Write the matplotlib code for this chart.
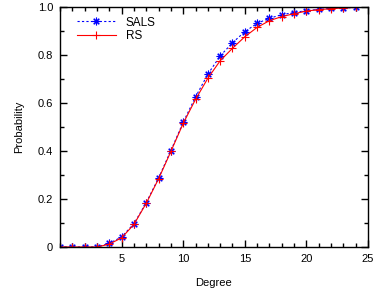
import numpy as np
import matplotlib
matplotlib.use("Agg")
import matplotlib.pyplot as plt
from matplotlib.ticker import MultipleLocator, FixedLocator

degree = list(range(0, 25))
sals = [0, 0, 0, 0, 0.015, 0.042, 0.097, 0.185, 0.287, 0.402, 0.52, 0.625,
        0.72, 0.796, 0.851, 0.897, 0.932, 0.953, 0.968, 0.977, 0.985, 0.99,
        0.994, 0.996, 0.998]
rs = [0, 0, 0, 0, 0.012, 0.038, 0.094, 0.182, 0.284, 0.398, 0.515, 0.615,
      0.703, 0.776, 0.828, 0.876, 0.915, 0.943, 0.96, 0.972, 0.983, 0.989,
      0.993, 0.996, 0.998]
yticks = [0, 0.2, 0.4, 0.6, 0.8, 1.0]
ylabels = ['0', '0.2', '0.4', '0.6', '0.8', '1.0']

plt.rcParams['font.family'] = ['Liberation Sans', 'DejaVu Sans']
plt.rcParams['font.size'] = 8

fig = plt.figure(figsize=(3.78, 2.91), dpi=100)
ax = fig.add_axes([60/378, 44/291, 308/378, 240/291])

ax.plot(degree, sals, color='#0000ff', linestyle=(0, (2, 2)), linewidth=0.8,
        marker=(8, 2, 0), markersize=5.5, markeredgewidth=0.8, label='SALS')
ax.plot(degree, rs, color='#ff0000', linestyle='-', linewidth=0.8,
        marker='+', markersize=5.5, markeredgewidth=0.8, label='RS')

ax.set_xlim(0, 25)
ax.set_ylim(0, 1.0)
ax.xaxis.set_major_locator(FixedLocator([5, 10, 15, 20, 25]))
ax.xaxis.set_minor_locator(MultipleLocator(1))
ax.yaxis.set_major_locator(FixedLocator(yticks))
ax.yaxis.set_minor_locator(MultipleLocator(0.1))
ax.set_yticklabels(ylabels)
ax.tick_params(which='both', direction='in', top=True, right=True, width=1)
ax.tick_params(which='major', length=5, pad=5)
ax.tick_params(which='minor', length=3)
for s in ax.spines.values():
    s.set_linewidth(1)

ax.set_xlabel('Degree', labelpad=10)
ax.set_ylabel('Probability', labelpad=10)

leg = ax.legend(loc='upper left', bbox_to_anchor=(0.055, 0.96), frameon=False,
                handlelength=3.3, borderaxespad=0, borderpad=0,
                handletextpad=0.85, labelspacing=0.15, fontsize=8.5)

fig.savefig('out.png', dpi=100)
